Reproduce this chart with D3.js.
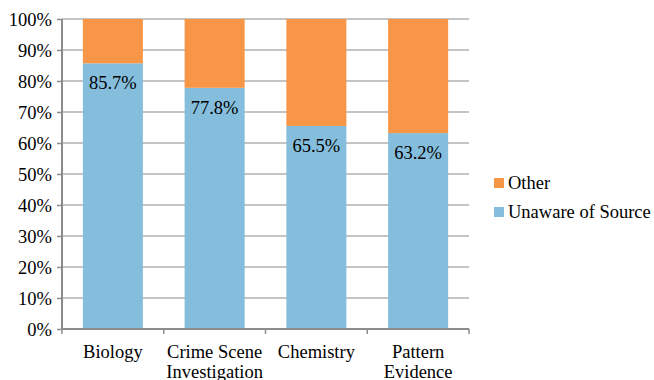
<!DOCTYPE html>
<html><head><meta charset="utf-8">
<script src="https://cdn.jsdelivr.net/npm/d3@7"></script>
<style>html,body{margin:0;padding:0;background:#fff;}svg{display:block;}</style>
</head><body>
<svg id="c" width="654" height="380"></svg>
<script>
const categories = [["Biology"], ["Crime Scene", "Investigation"], ["Chemistry"], ["Pattern", "Evidence"]];
const unaware = [85.7, 77.8, 65.5, 63.2];
const other = [14.3, 22.2, 34.5, 36.8];
const yTicks = [0, 10, 20, 30, 40, 50, 60, 70, 80, 90, 100];
const seriesNames = ["Other", "Unaware of Source"];
const colors = {"Other": "#F79646", "Unaware of Source": "#85BEDC"};

const svg = d3.select("#c");
const font = "Liberation Serif";
const fs = 18.5;
const m = {l: 62, r: 469, t: 19, b: 329};

const x = d3.scaleBand().domain(d3.range(categories.length)).range([m.l, m.r]).padding(0);
const y = d3.scaleLinear().domain([0, 100]).range([m.b, m.t]);

// gridlines
svg.append("g").selectAll("line").data(yTicks.filter(d => d > 0)).join("line")
  .attr("x1", m.l).attr("x2", m.r).attr("y1", d => y(d)).attr("y2", d => y(d))
  .attr("stroke", "#B0B0B0").attr("stroke-width", 1.5);

// y axis
const yAxis = d3.axisLeft(y).tickValues(yTicks).tickFormat(d => d + "%").tickSize(5).tickPadding(5);
const ya = svg.append("g").attr("transform", `translate(${m.l},0)`).call(yAxis).attr("font-family", font).attr("font-size", fs);
ya.select(".domain").attr("stroke", "#8C8C8C").attr("stroke-width", 2).attr("d", `M0,${m.t}V${m.b}`);
ya.selectAll(".tick line").attr("stroke", "#8C8C8C").attr("stroke-width", 1.5);
ya.selectAll("text").attr("font-family", font).attr("font-size", fs).attr("fill", "#000").attr("dy", "0.33em");

// bars
const bw = x.bandwidth() * 0.59;
const g = svg.append("g");
categories.forEach((c, i) => {
  const cx = x(i) + x.bandwidth() / 2;
  g.append("rect").attr("x", cx - bw / 2).attr("width", bw)
    .attr("y", y(unaware[i])).attr("height", y(0) - y(unaware[i])).attr("fill", colors["Unaware of Source"]);
  g.append("rect").attr("x", cx - bw / 2).attr("width", bw)
    .attr("y", y(unaware[i] + other[i])).attr("height", y(unaware[i]) - y(unaware[i] + other[i])).attr("fill", colors["Other"]);
  g.append("text").attr("x", cx).attr("y", y(unaware[i]) + 26).attr("text-anchor", "middle")
    .attr("font-family", font).attr("font-size", fs).attr("fill", "#000").text(unaware[i].toFixed(1) + "%");
});

// x axis
const xAxis = d3.axisBottom(x).tickValues([]).tickSize(0);
const xa = svg.append("g").attr("transform", `translate(0,${m.b})`).call(xAxis).attr("font-family", font).attr("font-size", fs);
xa.select(".domain").attr("stroke", "#8C8C8C").attr("stroke-width", 2).attr("d", `M${m.l},0H${m.r}`);
const bounds = d3.range(categories.length + 1).map(i => i < categories.length ? x(i) : m.r);
xa.selectAll(".xt").data(bounds).join("line").attr("class", "xt")
  .attr("x1", d => d).attr("x2", d => d).attr("y1", 0).attr("y2", 5)
  .attr("stroke", "#8C8C8C").attr("stroke-width", 1.5);
categories.forEach((c, i) => {
  const t = xa.append("text").attr("text-anchor", "middle").attr("font-family", font)
    .attr("font-size", fs).attr("fill", "#000");
  c.forEach((line, j) => {
    t.append("tspan").attr("x", x(i) + x.bandwidth() / 2).attr("y", 29 + j * 19.5).text(line);
  });
});

// legend
const leg = svg.append("g");
seriesNames.forEach((s, i) => {
  const ly = 183 + i * 29;
  leg.append("rect").attr("x", 494).attr("y", ly - 5).attr("width", 10).attr("height", 10).attr("fill", colors[s]);
  leg.append("text").attr("x", 508).attr("y", ly + 6).attr("font-family", font).attr("font-size", fs).attr("fill", "#000").text(s);
});
</script>
</body></html>
